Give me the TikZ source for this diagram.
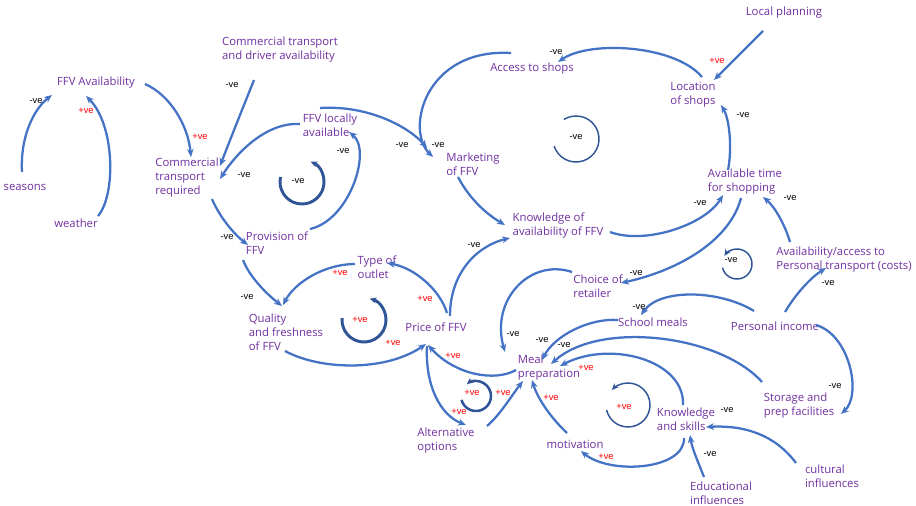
\documentclass[tikz,border=0pt]{standalone}
\usepackage{fontspec}
\setmainfont{Open Sans}
\newfontfamily\lblfont{Liberation Sans}
\usetikzlibrary{arrows.meta,calc}
\definecolor{txtpurple}{HTML}{7030A0}
\definecolor{arrblue}{HTML}{4472C4}
\definecolor{loopblue}{HTML}{2F5597}
\definecolor{posred}{HTML}{FF0000}
\begin{document}
\begin{tikzpicture}[x=0.75pt,y=-0.75pt,
  var/.style={text=txtpurple, font=\fontsize{8.5}{10.5}\selectfont, align=left, inner sep=0pt},
  arr/.style={draw=arrblue, line width=1.7pt, -{Stealth[length=6pt,width=5pt]}},
  neglbl/.style={font=\lblfont\fontsize{7}{8}\selectfont, text=black, inner sep=0pt},
  poslbl/.style={font=\lblfont\fontsize{7}{8}\selectfont, text=posred, inner sep=0pt},
  loopthick/.style={draw=loopblue, line width=2.2pt},
  loopmid/.style={draw=loopblue, line width=1.9pt},
  loopthin/.style={draw=loopblue, line width=1.1pt},
  looptip/.style={-{Stealth[length=5pt,width=4.5pt]}}
]
\useasboundingbox (0,0) rectangle (916,506);
% variables
\node[var] (fav) at (96,83) {FFV Availability};
\node[var] (ctda) at (280,50) {Commercial transport\\and driver availability};
\node[var] (seas) at (25,187) {seasons};
\node[var] (weat) at (76,223) {weather};
\node[var] (ctr) at (187,178) {Commercial\\transport\\required};
\node[var] (ffvl) at (330,125) {FFV locally\\available};
\node[var] (prov) at (277,243) {Provision of\\FFV};
\node[var] (qual) at (286,332) {Quality\\and freshness\\of FFV};
\node[var] (tout) at (377,267) {Type of\\outlet};
\node[var] (price) at (436,327) {Price of FFV};
\node[var] (mkt) at (473,164) {Marketing\\of FFV};
\node[var] (know) at (558,226) {Knowledge of\\availability of FFV};
\node[var] (acc) at (532,69) {Access to shops};
\node[var] (loc) at (693,95) {Location\\of shops};
\node[var] (lp) at (784,13) {Local planning};
\node[var] (avt) at (745,182) {Available time\\for shopping};
\node[var] (apt) at (844,260) {Availability/access to\\Personal transport (costs)};
\node[var] (cho) at (598,286) {Choice of\\retailer};
\node[var] (sch) at (653,322) {School meals};
\node[var] (pinc) at (775,326) {Personal income};
\node[var] (meal) at (549,368) {Meal\\preparation};
\node[var] (stor) at (799,406) {Storage and\\prep facilities};
\node[var] (ks) at (686,419) {Knowledge\\and skills};
\node[var] (alt) at (446,441) {Alternative\\options};
\node[var] (mot) at (575,444) {motivation};
\node[var] (edu) at (721,493) {Educational\\influences};
\node[var] (cult) at (832,476) {cultural\\influences};
% connectors
\draw[arr] ($(seas)+(-3,-15)$) .. controls (20,135) and (35,108) .. ($(fav)+(-44,12)$);
\draw[arr] ($(weat)+(22,-7)$) .. controls (116,195) and (115,125) .. ($(fav)+(-10,13)$);
\draw[arr] ($(fav)+(49,1)$) .. controls (170,95) and (188,125) .. ($(ctr)+(4,-21)$);
\draw[arr] ($(ctda)+(-26,30)$) .. controls (242,110) and (230,140) .. ($(ctr)+(33,-12)$);
\draw[arr] ($(ffvl)+(-30,-1)$) .. controls (265,122) and (235,155) .. ($(ctr)+(33,1)$);
\draw[arr] ($(ctr)+(25,21)$) .. controls (220,218) and (235,235) .. ($(prov)+(-29,2)$);
\draw[arr] ($(prov)+(33,-14)$) .. controls (350,220) and (372,150) .. ($(ffvl)+(19,7)$);
\draw[arr] ($(prov)+(-34,17)$) .. controls (250,278) and (268,295) .. ($(qual)+(-4,-26)$);
\draw[arr] ($(tout)+(-22,-3)$) .. controls (325,264) and (295,282) .. ($(qual)+(-3,-27)$);
\draw[arr] ($(qual)+(-1,19)$) .. controls (320,370) and (385,372) .. ($(price)+(-10,17)$);
\draw[arr] ($(price)+(11,-14)$) .. controls (440,290) and (415,268) .. ($(tout)+(10,-4)$);
\draw[arr] ($(price)+(14,-11)$) .. controls (450,270) and (480,245) .. ($(know)+(-48,12)$);
\draw[arr] ($(mkt)+(-15,13)$) .. controls (470,200) and (488,215) .. ($(know)+(-53,-1)$);
\draw[arr] ($(ffvl)+(-10,-17)$) .. controls (370,105) and (410,128) .. ($(mkt)+(-46,-16)$);
\draw[arr] ($(acc)+(-21,-16)$) .. controls (425,48) and (405,130) .. ($(mkt)+(-40,-7)$);
\draw[arr] ($(loc)+(9,-18)$) .. controls (675,45) and (590,40) .. ($(acc)+(26,-7)$);
\draw[arr] ($(lp)+(-21,18)$) -- ($(loc)+(21,-15)$);
\draw[arr] ($(avt)+(-17,-12)$) .. controls (732,150) and (730,120) .. ($(loc)+(28,10)$);
\draw[arr] ($(know)+(52,6)$) .. controls (645,245) and (705,225) .. ($(avt)+(-22,13)$);
\draw[arr] ($(avt)+(-4,16)$) .. controls (730,240) and (680,270) .. ($(cho)+(23,-3)$);
\draw[arr] ($(apt)+(-54,-18)$) .. controls (785,225) and (775,207) .. ($(avt)+(18,15)$);
\draw[arr] ($(pinc)+(10,-14)$) .. controls (795,295) and (810,278) .. ($(apt)+(-18,8)$);
\draw[arr] ($(pinc)+(-21,-15)$) .. controls (720,290) and (660,288) .. ($(sch)+(-12,-7)$);
\draw[arr] ($(pinc)+(41,-1)$) .. controls (850,335) and (862,395) .. ($(stor)+(42,8)$);
\draw[arr] ($(cho)+(-26,-14)$) .. controls (530,258) and (490,300) .. ($(meal)+(-44,-16)$);
\draw[arr] ($(sch)+(-35,-2)$) .. controls (590,318) and (555,335) .. ($(meal)+(-7,-8)$);
\draw[arr] ($(stor)+(-37,-24)$) .. controls (720,335) and (600,320) .. ($(meal)+(2,-4)$);
\draw[arr] ($(ks)+(-3,-14)$) .. controls (685,360) and (610,340) .. ($(meal)+(11,-2)$);
\draw[arr] ($(meal)+(-33,2)$) .. controls (495,382) and (455,375) .. ($(price)+(-8,18)$);
\draw[arr] ($(price)+(-9,19)$) .. controls (425,385) and (440,415) .. ($(alt)+(20,-16)$);
\draw[arr] ($(alt)+(41,-15)$) .. controls (500,415) and (512,395) .. ($(meal)+(-26,13)$);
\draw[arr] ($(mot)+(-8,-11)$) .. controls (553,420) and (538,400) .. ($(meal)+(-17,12)$);
\draw[arr] ($(ks)+(-2,19)$) .. controls (685,470) and (610,475) .. ($(mot)+(6,7)$);
\draw[arr] ($(edu)+(-17,-16)$) .. controls (698,462) and (692,448) .. ($(ks)+(4,16)$);
\draw[arr] ($(cult)+(-36,-13)$) .. controls (775,435) and (745,425) .. ($(ks)+(20,8)$);
% polarity labels
\node[neglbl] (s1) at (36,101) {-ve};
\node[poslbl] (s2) at (86,111) {+ve};
\node[poslbl] (s3) at (200,137) {+ve};
\node[neglbl] (s4) at (232,85) {-ve};
\node[neglbl] (s5) at (244,175) {-ve};
\node[neglbl] (s6) at (227,237) {-ve};
\node[neglbl] (s7) at (343,151) {-ve};
\node[neglbl] (s8) at (247,297) {-ve};
\node[poslbl] (s9) at (340,273) {+ve};
\node[poslbl] (s10) at (393,343) {+ve};
\node[poslbl] (s11) at (425,299) {+ve};
\node[neglbl] (s12) at (474,245) {-ve};
\node[neglbl] (s13) at (402,145) {-ve};
\node[neglbl] (s14) at (438,145) {-ve};
\node[neglbl] (s15) at (556,52) {-ve};
\node[poslbl] (s16) at (717,61) {+ve};
\node[neglbl] (s17) at (743,115) {-ve};
\node[neglbl] (s18) at (700,203) {-ve};
\node[neglbl] (s19) at (636,273) {-ve};
\node[neglbl] (s20) at (790,198) {-ve};
\node[neglbl] (s21) at (828,283) {-ve};
\node[neglbl] (s22) at (639,307) {-ve};
\node[neglbl] (s23) at (835,386) {-ve};
\node[neglbl] (s24) at (513,334) {-ve};
\node[neglbl] (s25) at (542,340) {-ve};
\node[neglbl] (s26) at (564,345) {-ve};
\node[poslbl] (s27) at (586,368) {+ve};
\node[poslbl] (s28) at (453,356) {+ve};
\node[poslbl] (s29) at (459,412) {+ve};
\node[poslbl] (s30) at (503,393) {+ve};
\node[poslbl] (s31) at (551,398) {+ve};
\node[poslbl] (s32) at (606,457) {+ve};
\node[neglbl] (s33) at (710,454) {-ve};
\node[neglbl] (s34) at (727,410) {-ve};
% loops
\node[neglbl] (lp1) at (298,181) {-ve};
\draw[loopthick,looptip] ($(lp1)+(4,1)+(193:22)$) arc[start angle=193, end angle=-67, radius=22];
\node[neglbl] (lp2) at (576,137) {-ve};
\draw[loopthin] ($(lp2)+(0,2)+(162:23)$) arc[start angle=162, end angle=-122, radius=23];
\node[neglbl] (lp3) at (731,260) {-ve};
\draw[loopthin,looptip] ($(lp3)+(6,4)+(166:15)$) arc[start angle=166, end angle=-147, radius=15];
\node[poslbl] (lp4) at (360,320) {+ve};
\draw[loopthick,looptip] ($(lp4)+(4,0)+(185:22)$) arc[start angle=185, end angle=-75, radius=22];
\node[poslbl] (lp5) at (472,393) {+ve};
\draw[loopmid,looptip] ($(lp5)+(4,3)+(165:15)$) arc[start angle=165, end angle=-128, radius=15];
\node[poslbl] (lp6) at (624,407) {+ve};
\draw[loopthin,looptip] ($(lp6)+(4,-2)+(167:22)$) arc[start angle=167, end angle=-137, radius=22];
\end{tikzpicture}
\end{document}
